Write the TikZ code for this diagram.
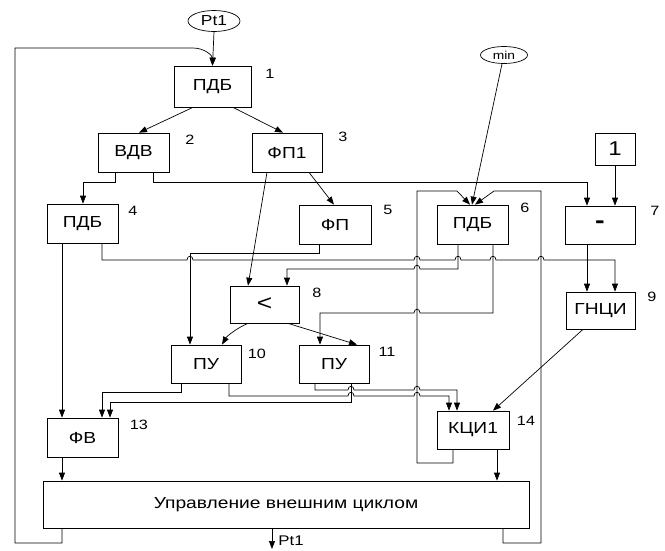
\documentclass[tikz,border=0pt]{standalone}
\usepackage{fontspec}
\setmainfont{Liberation Sans}[FakeStretch=1.2]
\usetikzlibrary{arrows.meta,shapes.geometric}
\newcommand{\jumpR}[2]{-- ({#1-3},#2) .. controls ({#1-3},{#2-5}) and ({#1+3},{#2-5}) .. ({#1+3},#2)}
\newcommand{\jumpL}[2]{-- ({#1+3},#2) .. controls ({#1+3},{#2-5}) and ({#1-3},{#2-5}) .. ({#1-3},#2)}
\begin{document}
\begin{tikzpicture}[x=1pt,y=-1pt,line width=0.7pt,
  box/.style={draw,inner sep=0pt,font=\fontsize{16}{18}\selectfont},
  oval/.style={draw,ellipse,inner sep=0pt},
  num/.style={font=\fontsize{13.5}{15}\selectfont},
  arr/.style={-{Triangle[length=8pt,width=6pt]}}]
\useasboundingbox (0,0) rectangle (665,550);
% nodes
\node[oval,minimum width=52pt,minimum height=21pt,font=\fontsize{14.5}{16}\selectfont] (p1) at (214,21) {Pt1};
\node[oval,minimum width=47pt,minimum height=17pt,font=\fontsize{11.5}{13}\selectfont] (mn) at (504,55) {min};
\node[box,minimum width=77pt,minimum height=41pt] (b1) at (212.5,86.5) {ПДБ};
\node[box,minimum width=71pt,minimum height=39pt] (b2) at (133.5,152.5) {ВДВ};
\node[box,minimum width=70pt,minimum height=39pt] (b3) at (287,152.5) {ФП1};
\node[box,minimum width=40pt,minimum height=32pt,font=\fontsize{20}{22}\selectfont] (one) at (615,149) {1};
\node[box,minimum width=71pt,minimum height=39pt] (b4) at (82.5,223.5) {ПДБ};
\node[box,minimum width=72pt,minimum height=39pt] (b5) at (335,224.5) {ФП};
\node[box,minimum width=71pt,minimum height=39pt] (b6) at (472.5,224.5) {ПДБ};
\node[box,minimum width=70pt,minimum height=38pt,font=\fontsize{24}{26}\selectfont\bfseries] (b7) at (600,225) {-};
\node[box,minimum width=69pt,minimum height=37pt,font=\fontsize{22}{24}\selectfont] (b8) at (264.5,304.5) {<};
\node[box,minimum width=69pt,minimum height=37pt] (b9) at (600.5,310.5) {ГНЦИ};
\node[box,minimum width=70pt,minimum height=38pt] (b10) at (206,364) {ПУ};
\node[box,minimum width=70pt,minimum height=38pt] (b11) at (334,364) {ПУ};
\node[box,minimum width=71pt,minimum height=39pt] (b13) at (82.5,437.5) {ФВ};
\node[box,minimum width=72pt,minimum height=38pt] (b14) at (473,430) {КЦИ1};
\node[box,minimum width=486pt,minimum height=47pt] (big) at (286,504.5) {Управление внешним циклом};
\coordinate (outp) at (272,549);
\node[font=\fontsize{14}{16}\selectfont] (lpt) at (291,541) {Pt1};
% numbers
\node[num] (n1) at (270,74) {1};
\node[num] (n2) at (190,140) {2};
\node[num] (n3) at (343,137) {3};
\node[num] (n4) at (133,211) {4};
\node[num] (n5) at (388,210) {5};
\node[num] (n6) at (525,208) {6};
\node[num] (n7) at (655,211) {7};
\node[num] (n8) at (317,293) {8};
\node[num] (n9) at (652,297) {9};
\node[num] (n10) at (257,354) {10};
\node[num] (n11) at (387,352) {11};
\node[num] (n13) at (139,425) {13};
\node[num] (n14) at (526,421) {14};
% connectors
\draw[arr] (p1.south) -- (b1.north);
\draw[arr] (big.south -| 62,0) -- (62,543) -- (15,543) -- (15,48) -- (193,48) .. controls (205,48) and (212.5,56) .. (b1.north);
\draw[arr] (b1.south -| 193,0) -- (b2.north -| 139,0);
\draw[arr] (b1.south -| 233,0) -- (b3.north -| 283,0);
\draw[arr] (b2.south -| 115,0) -- (115,182) -- (83,182) -- (b4.north -| 83,0);
\draw[arr] (b2.south -| 153,0) -- (153,182) -- (587,182) -- (b7.north -| 587,0);
\draw[arr] (one.south) -- (b7.north -| 615,0);
\draw[arr] (b3.south -| 309,0) -- (b5.north -| 334,0);
\draw[arr] (b3.south -| 267,0) -- (b8.north -| 248,0);
\draw[arr] (mn.south -| 502,0) -- (b6.north -| 472,0);
\draw[arr] (b14.south -| 453,0) -- (453,463) -- (417,463) -- (417,191) -- (457,191) -- (b6.north -| 470,0);
\draw[arr] (big.south -| 503,0) -- (503,543) -- (541,543) -- (541,191) -- (494,191) -- (b6.north -| 475,0);
\draw[arr] (b4.south -| 62,0) -- (b13.north -| 62,0);
\draw[arr] (b4.south -| 102,0) -- (102,260) \jumpR{190}{260} \jumpR{417}{260} \jumpR{458}{260} \jumpR{493}{260} \jumpR{541}{260} -- (615,260) -- (b9.north -| 615,0);
\draw[arr] (b5.south -| 319,0) -- (319,253) -- (190,253) -- (b10.north -| 190,0);
\draw[arr] (b6.south -| 458,0) -- (458,269) \jumpL{417}{269} -- (287,269) -- (b8.north -| 287,0);
\draw[arr] (b6.south -| 493,0) -- (493,313) \jumpL{417}{313} -- (320,313) -- (b11.north -| 320,0);
\draw[arr] (b7.south -| 587,0) -- (b9.north -| 587,0);
\draw[arr] (b8.south -| 248,0) .. controls (237,328) and (227,336) .. (b10.north -| 222,0);
\draw[arr] (b8.south -| 288,0) -- (b11.north -| 357,0);
\draw[arr] (b9.south -| 583,0) -- (b14.north -| 493,0);
\draw[arr] (b10.south -| 181,0) -- (181,392) -- (102,392) -- (b13.north -| 102,0);
\draw[arr] (b10.south -| 229,0) -- (229,396) \jumpR{351}{396} \jumpR{417}{396} -- (449,396) -- (b14.north -| 449,0);
\draw[arr] (b11.south -| 315,0) -- (315,390) \jumpR{351}{390} \jumpR{417}{390} -- (457,390) -- (b14.north -| 457,0);
\draw[arr] (b11.south -| 351,0) -- (351,402) -- (110,402) -- (b13.north -| 110,0);
\draw[arr] (b13.south -| 62,0) -- (big.north -| 62,0);
\draw[arr] (b14.south -| 497,0) -- (big.north -| 497,0);
\draw[arr] (big.south -| 272,0) -- (outp);
\end{tikzpicture}
\end{document}
